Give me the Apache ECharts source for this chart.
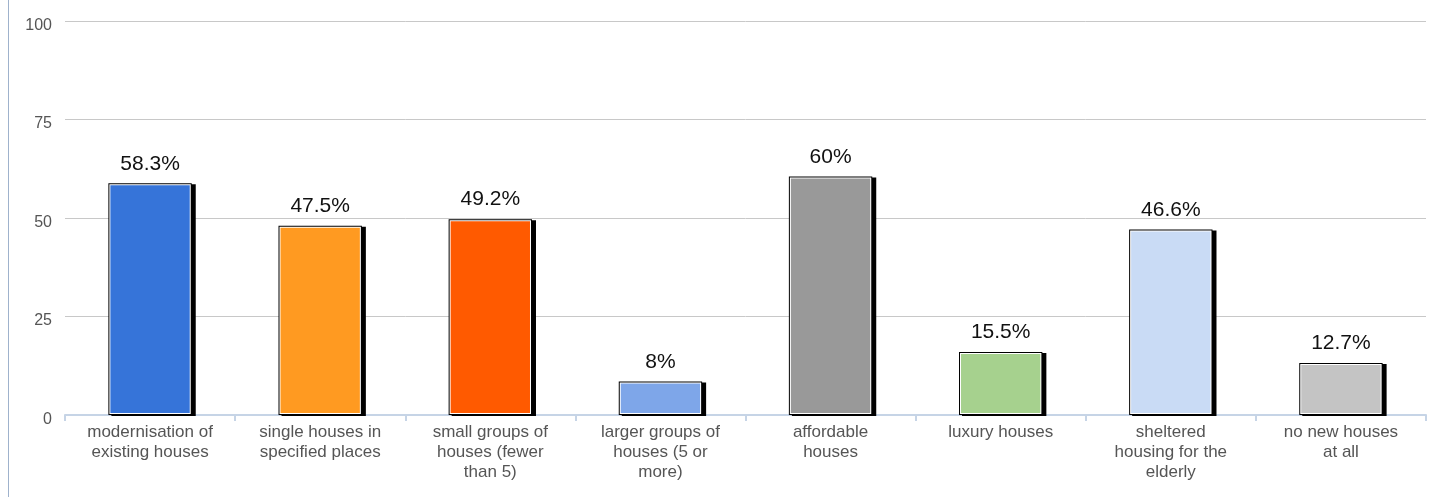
<!DOCTYPE html>
<html>
<head>
<meta charset="utf-8">
<script src="https://cdn.jsdelivr.net/npm/echarts@6/dist/echarts.min.js"></script>
<style>
  html, body { margin: 0; padding: 0; background: #fff; }
  #chart { width: 1432px; height: 497px; }
</style>
</head>
<body>
<div id="chart"></div>
<script>
const categories = [
  'modernisation of\nexisting houses',
  'single houses in\nspecified places',
  'small groups of\nhouses (fewer\nthan 5)',
  'larger groups of\nhouses (5 or\nmore)',
  'affordable\nhouses',
  'luxury houses',
  'sheltered\nhousing for the\nelderly',
  'no new houses\nat all'
]
const values = [58.3, 47.5, 49.2, 8, 60, 15.5, 46.6, 12.7]
const barColors = ['#3674d9', '#ff9a21', '#ff5a00', '#7ea6e9', '#999999', '#a6d18e', '#c9dbf5', '#c4c4c4']
const yTicks = [0, 25, 50, 75, 100]

const chart = echarts.init(document.getElementById('chart'))

const renderBar = (params, api) => {
  const idx = api.value(0)
  const top = api.coord([idx, api.value(1)])
  const base = api.coord([idx, 0])
  const w = api.size([1, 0])[0] * 0.49
  const x = top[0] - w / 2
  // the frame sits a little outside the value point
  const y0 = top[1] - 2
  const h = base[1] - y0
  return {
    type: 'group',
    children: [
      {type: 'rect', shape: {x: x + 3, y: y0 + 1, width: w + 1, height: h}, style: {fill: '#000'}},
      {type: 'rect', shape: {x: x, y: y0, width: w, height: h}, style: {fill: '#000'}},
      {type: 'rect', shape: {x: x + 1, y: y0 + 1, width: w - 2, height: h - 2}, style: {fill: '#fff'}},
      {type: 'rect', shape: {x: x + 2, y: y0 + 2, width: w - 4, height: h - 4}, style: {fill: barColors[idx]}},
      {
        type: 'text',
        style: {
          text: values[idx] + '%',
          x: top[0],
          y: top[1] - 11,
          align: 'center',
          verticalAlign: 'bottom',
          fill: '#111',
          font: '21px "Liberation Sans", Arial, sans-serif'
        }
      }
    ]
  }
}

chart.setOption({
  animation: false,
  textStyle: {fontFamily: '"Liberation Sans", Arial, sans-serif'},
  grid: {left: 65, right: 6, top: 21, bottom: 82},
  graphic: [{
    type: 'line',
    shape: {x1: 8.5, y1: 0, x2: 8.5, y2: 497},
    style: {stroke: '#9fb2cc', lineWidth: 1}
  }],
  xAxis: {
    type: 'category',
    data: categories,
    axisLine: {lineStyle: {color: '#c6d4e6', width: 2}},
    axisTick: {show: true, length: 6, lineStyle: {color: '#c6d4e6', width: 2}},
    axisLabel: {
      color: '#555',
      fontSize: 17,
      lineHeight: 20,
      margin: 7,
      interval: 0
    }
  },
  yAxis: {
    type: 'value',
    min: yTicks[0],
    max: yTicks[yTicks.length - 1],
    interval: 25,
    axisLine: {show: false},
    axisTick: {show: false},
    axisLabel: {
      margin: 13,
      formatter: '{v|{value}}',
      rich: {v: {color: '#555', fontSize: 16, padding: [9, 0, 0, 0]}}
    },
    splitLine: {lineStyle: {color: '#c8c8c8'}}
  },
  series: [{
    type: 'custom',
    renderItem: renderBar,
    data: values.map((v, i) => [i, v]),
    encode: {x: 0, y: 1}
  }]
})
</script>
</body>
</html>
